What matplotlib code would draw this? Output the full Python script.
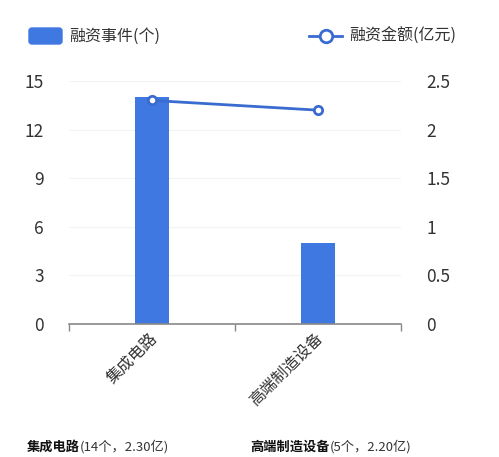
import matplotlib.pyplot as plt
from matplotlib.lines import Line2D
from matplotlib.patches import FancyBboxPatch

plt.rcParams['font.family'] = ['Noto Sans CJK SC', 'DejaVu Sans']

categories = ['集成电路', '高端制造设备']
event_counts = [14, 5]
amounts = [2.30, 2.20]
left_ticks = [0, 3, 6, 9, 12, 15]
right_ticks = [0, 0.5, 1, 1.5, 2, 2.5]
right_labels = ['0', '0.5', '1', '1.5', '2', '2.5']
footnotes = ['集成电路', '高端制造设备']
foot_values = ['(14个，2.30亿)', '(5个，2.20亿)']

bar_color = '#3f78e0'
line_color = '#3a6bd0'
text_color = '#333333'

W, H = 499, 457
fig = plt.figure(figsize=(W / 100, H / 100), dpi=100)
ax = fig.add_axes([69 / W, 1 - 324 / H, 332 / W, 243 / H])

x = list(range(len(categories)))
ax.bar(x, event_counts, width=0.2, color=bar_color, zorder=2)
ax.set_xlim(-0.5, len(categories) - 0.5)
ax.set_ylim(0, 15)
ax.set_yticks(left_ticks)
ax.set_yticklabels([str(t) for t in left_ticks])
ax.grid(axis='y', color='#f3f3f3', linewidth=0.8, zorder=0)

# category boundary ticks on the x axis
ax.set_xticks([-0.5, 0.5, 1.5])
ax.set_xticklabels([])
ax.tick_params(axis='x', length=5, color='#888888', width=1)
ax.tick_params(axis='y', length=0, labelsize=12.5, colors=text_color, pad=18)
for s in ['top', 'right', 'left']:
    ax.spines[s].set_visible(False)
ax.spines['bottom'].set_color('#888888')
ax.spines['bottom'].set_linewidth(1.2)

for xi, name in zip(x, categories):
    ax.text(xi - 0.02, -0.35, name, rotation=45, ha='right', va='top',
            rotation_mode='anchor', fontsize=11.5, fontweight='light', color=text_color)

ax2 = ax.twinx()
ax2.plot(x, amounts, color=line_color, linewidth=2, marker='o', markersize=6,
         markerfacecolor='white', markeredgecolor=line_color, markeredgewidth=2, zorder=3)
ax2.set_ylim(0, 2.5)
ax2.set_yticks(right_ticks)
ax2.set_yticklabels(right_labels)
ax2.tick_params(axis='y', length=0, labelsize=12.5, colors=text_color, pad=18)
for s in ['top', 'right', 'left', 'bottom']:
    ax2.spines[s].set_visible(False)

# legend
fig.patches.append(FancyBboxPatch((29 / W, 1 - 44 / H), 33 / W, 16 / H,
                                  boxstyle='round,pad=0,rounding_size=0.006',
                                  transform=fig.transFigure, color=bar_color))
fig.text(69 / W, 1 - 36 / H, '融资事件(个)', fontsize=11.5, fontweight='light',
         color=text_color, va='center')
fig.add_artist(Line2D([309 / W, 342 / W], [1 - 36 / H, 1 - 36 / H], transform=fig.transFigure,
                      color=line_color, linewidth=2))
fig.add_artist(Line2D([325.5 / W], [1 - 36 / H], transform=fig.transFigure, marker='o',
                      markersize=9, markerfacecolor='white', markeredgecolor=line_color,
                      markeredgewidth=2))
fig.text(349 / W, 1 - 36 / H, '融资金额(亿元)', fontsize=11.5, fontweight='light',
         color=text_color, va='center')

# footnotes
for xpos, name, val in zip([27, 250], footnotes, foot_values):
    t = fig.text(xpos / W, 1 - 447 / H, name, fontsize=9.5, fontweight='bold',
                 color='#111111', va='center')
    fig.canvas.draw()
    bb = t.get_window_extent()
    fig.text(bb.x1 / W, 1 - 447 / H, val, fontsize=9.5, fontweight='light',
             color=text_color, va='center')

fig.savefig('out.png', dpi=100, facecolor='white')
